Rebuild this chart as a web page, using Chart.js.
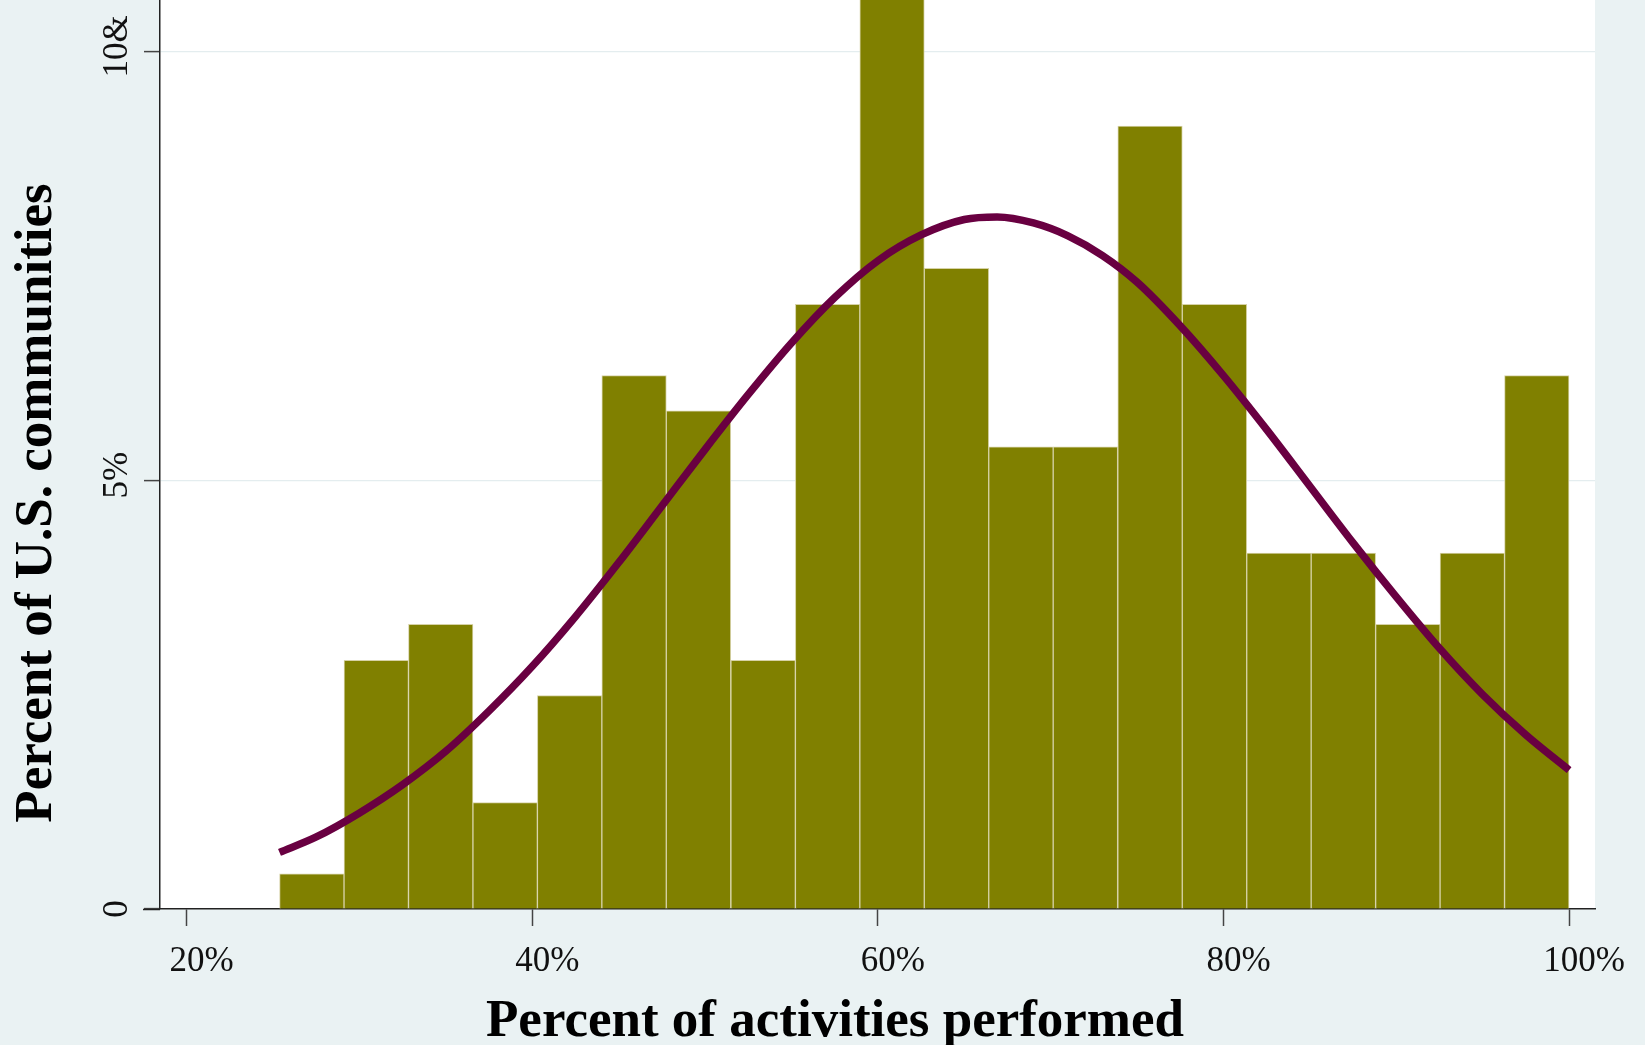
<!DOCTYPE html>
<html><head><meta charset="utf-8">
<script src="https://cdn.jsdelivr.net/npm/chart.js@4/dist/chart.umd.min.js"></script>
<style>html,body{margin:0;padding:0;background:#EAF2F3;overflow:hidden}#wrap{width:1645px;height:1045px;position:relative}</style>
</head><body><div id="wrap"><canvas id="c" width="1645" height="1045"></canvas></div>
<script>
// Histogram bins (centers, % of activities performed) and heights (% of U.S. communities)
const binCenters = [27.24, 30.97, 34.70, 38.43, 42.16, 45.89, 49.62, 53.36, 57.09, 60.82,
                    64.55, 68.28, 72.01, 75.75, 79.48, 83.21, 86.94, 90.67, 94.40, 98.13];
const binPercents = [0.41, 2.90, 3.32, 1.24, 2.49, 6.22, 5.81, 2.90, 7.05, 11.20,
                     7.47, 5.39, 5.39, 9.13, 7.05, 4.15, 4.15, 3.32, 4.15, 6.22];
// Normal density overlay
const curveX = [25.37, 27.5, 30, 32.5, 35, 37.5, 40, 42.5, 45, 47.5, 50, 52.5, 55, 57.5, 60, 62.5,
                65, 66.9, 69, 71, 73, 75, 77.5, 80, 82.5, 85, 87.5, 90, 92.5, 95, 97.5, 100];
const curveY = [0.66, 0.84, 1.12, 1.45, 1.84, 2.31, 2.83, 3.41, 4.04, 4.70, 5.36, 6.00, 6.60, 7.13, 7.56, 7.86,
                8.04, 8.07, 8.00, 7.85, 7.62, 7.31, 6.80, 6.22, 5.59, 4.93, 4.27, 3.64, 3.04, 2.50, 2.03, 1.62];
const xTickValues = [20, 40, 60, 80, 100];
const xTickLabels = ['20%', '40%', '60%', '80%', '100%'];
const yTickValues = [0, 5, 10];
const yTickLabels = ['0', '5%', '10&'];
const xTitle = 'Percent of activities performed';
const yTitle = 'Percent of U.S. communities';

const BG = '#EAF2F3';
const SERIF = '"Liberation Serif", "Times New Roman", "DejaVu Serif", serif';

const decor = {
  id: 'decor',
  beforeDraw(chart) {
    const {ctx, chartArea: a} = chart;
    ctx.save();
    ctx.fillStyle = BG;
    ctx.fillRect(0, 0, chart.width, chart.height);
    ctx.fillStyle = '#FFFFFF';
    ctx.fillRect(a.left, a.top, a.right - a.left, a.bottom - a.top);
    ctx.restore();
  },
  afterDraw(chart) {
    const {ctx, chartArea: a} = chart;
    const xs = chart.scales.x, ys = chart.scales.y;
    ctx.save();
    // axis line extension to the left of the y axis
    ctx.strokeStyle = '#222';
    ctx.lineWidth = 1.5;
    ctx.beginPath();
    ctx.moveTo(143, a.bottom + 0.5);
    ctx.lineTo(a.left, a.bottom + 0.5);
    ctx.stroke();
    ctx.fillStyle = '#111';
    // x tick labels
    ctx.font = '35px ' + SERIF;
    ctx.textAlign = 'center';
    ctx.textBaseline = 'alphabetic';
    xTickValues.forEach((v, i) => {
      ctx.fillText(xTickLabels[i], xs.getPixelForValue(v) + 15, 971);
    });
    // y tick labels (rotated)
    yTickValues.forEach((v, i) => {
      ctx.save();
      ctx.translate(127, ys.getPixelForValue(v) - (i === 0 ? 0 : 5));
      ctx.rotate(-Math.PI / 2);
      ctx.fillText(yTickLabels[i], 0, 0);
      ctx.restore();
    });
    // titles
    ctx.fillStyle = '#000';
    ctx.font = 'bold 53px ' + SERIF;
    ctx.fillText(xTitle, 835, 1036);
    ctx.save();
    ctx.translate(51, 503);
    ctx.rotate(-Math.PI / 2);
    ctx.fillText(yTitle, 0, 0);
    ctx.restore();
    ctx.restore();
  }
};

new Chart(document.getElementById('c'), {
  type: 'bar',
  data: {
    datasets: [
      {
        type: 'line',
        order: 0,
        data: curveX.map((x, i) => ({x: x, y: curveY[i]})),
        borderColor: '#690041',
        borderWidth: 7.5,
        pointRadius: 0,
        fill: false,
        cubicInterpolationMode: 'monotone',
        borderCapStyle: 'butt'
      },
      {
        type: 'bar',
        order: 1,
        data: binCenters.map((x, i) => ({x: x, y: binPercents[i]})),
        backgroundColor: '#808000',
        borderColor: '#D6D2A6',
        borderWidth: 1,
        barPercentage: 1,
        categoryPercentage: 1
      }
    ]
  },
  options: {
    responsive: false,
    animation: false,
    devicePixelRatio: 1,
    layout: {padding: {left: 0, right: 50, top: 0, bottom: 0}},
    plugins: {legend: {display: false}, tooltip: {enabled: false}},
    scales: {
      x: {
        type: 'linear',
        offset: false,
        min: 18.455,
        max: 101.5,
        afterBuildTicks: s => { s.ticks = xTickValues.map(v => ({value: v})); },
        afterFit: s => { s.height = 136; },
        ticks: {display: false},
        grid: {offset: false, drawOnChartArea: false, drawTicks: true, tickLength: 17, tickColor: '#444', tickWidth: 1.5},
        border: {display: true, color: '#222', width: 1.5}
      },
      y: {
        type: 'linear',
        min: 0,
        max: 10.6,
        afterBuildTicks: s => { s.ticks = yTickValues.map(v => ({value: v})); },
        afterFit: s => { s.width = 160; },
        ticks: {display: false},
        grid: {
          offset: false,
          color: c => (c.tick && c.tick.value === 0) ? 'rgba(0,0,0,0)' : '#E4EDEF',
          lineWidth: 1.2,
          drawTicks: true,
          tickLength: 16,
          tickColor: '#444',
          tickWidth: 1.5
        },
        border: {display: true, color: '#222', width: 1.5}
      }
    }
  },
  plugins: [decor]
});
</script>
</body></html>
